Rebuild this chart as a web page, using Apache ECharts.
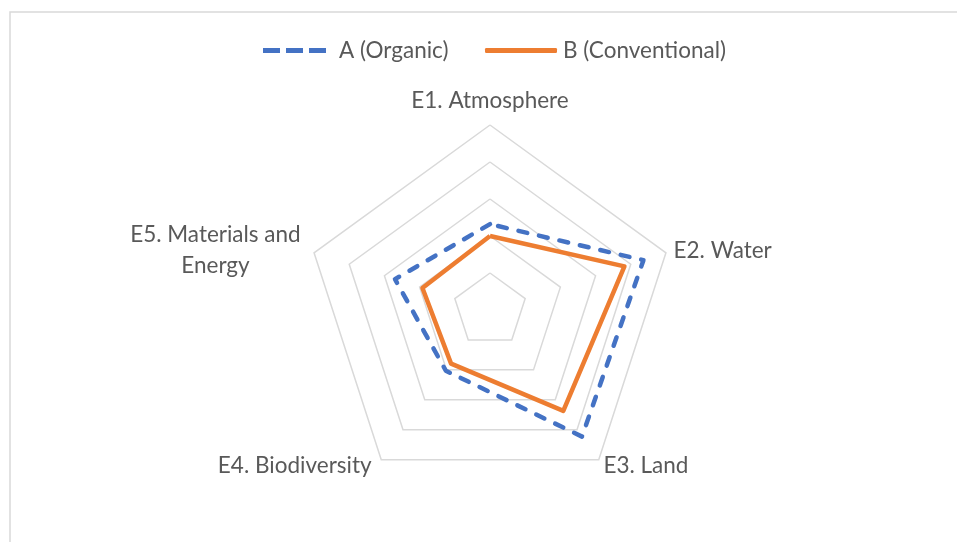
<!DOCTYPE html>
<html>
<head>
<meta charset="utf-8">
<style>
  html, body { margin: 0; padding: 0; background: #ffffff; }
  #chart { width: 957px; height: 542px; }
</style>
<script src="https://cdn.jsdelivr.net/npm/echarts@6/dist/echarts.min.js"></script>
</head>
<body>
<div id="chart"></div>
<script>
// Categories in the reference's clockwise order, starting at the top
var categories = ['E1. Atmosphere', 'E2. Water', 'E3. Land', 'E4. Biodiversity', 'E5. Materials and Energy'];
var seriesNames = ['A (Organic)', 'B (Conventional)'];
var valuesA = [2.32, 4.36, 4.23, 2.03, 2.7];
var valuesB = [2.0, 3.82, 3.37, 1.79, 1.92];
var axisMax = 5;

// ECharts lays radar indicators counter-clockwise; reorder to get the clockwise layout
function toCCW(arr) { return [arr[0]].concat(arr.slice(1).reverse()); }

var chart = echarts.init(document.getElementById('chart'));
var FONT = 'Lato';
var TXT = '#595959';
var FS = 22.5;

var option = {
  animation: false,
  graphic: [{
    type: 'rect',
    shape: { x: 10, y: 12, width: 1200, height: 800 },
    style: { fill: 'none', stroke: '#D9D9D9', lineWidth: 1.5 },
    silent: true
  }],
  legend: [{
    data: [{ name: seriesNames[0],
      icon: 'path://M0,0h17v5h-17z M23,0h17v5h-17z M46,0h17v5h-17z' }],
    left: 263, top: 39, padding: 0,
    itemWidth: 63, itemHeight: 5,
    textStyle: { fontFamily: FONT, fontSize: FS, color: TXT, padding: [0, 0, 0, 8] },
    itemStyle: { color: '#4472C4' }
  }, {
    data: [{ name: seriesNames[1], icon: 'roundRect' }],
    left: 485, top: 39, padding: 0,
    itemWidth: 72, itemHeight: 5,
    textStyle: { fontFamily: FONT, fontSize: FS, color: TXT, padding: [0, 0, 0, 1] },
    itemStyle: { color: '#ED7D31' }
  }],
  radar: {
    center: [490, 310],
    radius: 185,
    startAngle: 90,
    shape: 'polygon',
    splitNumber: 5,
    indicator: toCCW(categories).map(function (c) { return { name: c, max: axisMax, min: 0 }; }),
    nameGap: 8,
    axisName: {
      color: TXT,
      fontFamily: FONT,
      fontSize: FS,
      formatter: function (name) {
        if (name === categories[0]) return '{top|' + name + '}';
        if (name === categories[3]) return '{lf|' + name + '}';
        if (name === categories[4]) {
          var parts = name.split(' and ');
          return '{c|' + parts[0] + ' and}\n{c|' + parts[1] + '}';
        }
        return name;
      },
      rich: {
        top: { fontFamily: FONT, fontSize: FS, color: TXT, padding: [0, 0, 5, 0] },
        lf: { fontFamily: FONT, fontSize: FS, color: TXT, padding: [0, 5, 0, 0] },
        c: { fontFamily: FONT, fontSize: FS, color: TXT, width: 182, align: 'center', lineHeight: 31 }
      }
    },
    axisLine: { show: false },
    axisTick: { show: false },
    axisLabel: { show: false },
    splitArea: { show: false },
    splitLine: { lineStyle: { color: '#D9D9D9', width: 1.5 } }
  },
  series: [{
    type: 'radar',
    symbol: 'none',
    data: [{
      name: seriesNames[0],
      value: toCCW(valuesA),
      lineStyle: { color: '#4472C4', width: 4.5, type: [9, 12], cap: 'round', join: 'round' },
      itemStyle: { color: '#4472C4' }
    }, {
      name: seriesNames[1],
      value: toCCW(valuesB),
      lineStyle: { color: '#ED7D31', width: 4.5, type: 'solid', join: 'round' },
      itemStyle: { color: '#ED7D31' }
    }]
  }]
};
chart.setOption(option);
</script>
</body>
</html>
